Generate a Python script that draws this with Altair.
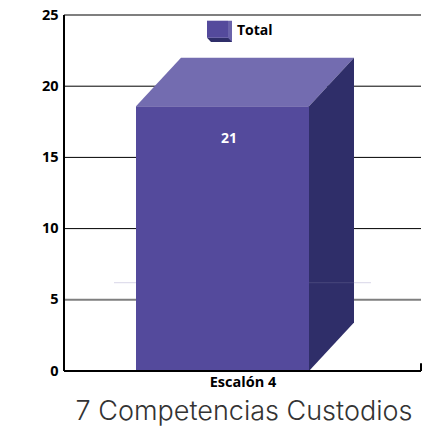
import altair as alt
import pandas as pd

categories = ["Escalón 4"]
series_name = "Total"
value_label = ["21"]
y_ticks = [0, 5, 10, 15, 20, 25]
grid_dark = [10, 15, 20]
grid_grey = [5, 25]
title_text = "7 Competencias Custodios"

# Drawn 3D box (x in pixels of plot width, y in axis units)
front_x = [72, 245]
depth_x = [117, 290]
front_top = 18.6
back_top = 22.0
back_bottom = 3.4
label_x = 165
label_value = 16.3
faint_line = 6.2
faint_x = [50, 307]

# Legend glyph
leg_front_x = [143, 164]
leg_back_x = [147, 168]
leg_y = [23.4, 24.6, 23.1]

W, H = 357, 356
xs = alt.Scale(domain=[0, W], range=[0, W], nice=False, zero=False)
ys = alt.Scale(domain=[0, 25], range=[H, 0], nice=False)
X = lambda f: alt.X(f, type="quantitative", scale=xs, axis=None)
Y = lambda f: alt.Y(f, type="quantitative", scale=ys, title=None,
                    axis=alt.Axis(values=y_ticks, grid=False, ticks=False, domain=False,
                                  labelFont="Open Sans", labelFontWeight="bold", labelFontSize=14.5,
                                  labelColor="#000000", labelPadding=6))

grid = alt.Chart(pd.DataFrame({"v": grid_dark})).mark_rule(color="#000000", strokeWidth=1).encode(
    y=Y("v:Q"), x=alt.value(0), x2=alt.value(W))
grid2 = alt.Chart(pd.DataFrame({"v": grid_grey})).mark_rule(color="#7f7f7f", strokeWidth=2).encode(
    y=Y("v:Q"), x=alt.value(0), x2=alt.value(W))

faint = alt.Chart(pd.DataFrame({"a": [faint_x[0]], "b": [faint_x[1]], "v": [faint_line]})).mark_rule(
    color="#d8d6e8", strokeWidth=1).encode(x=X("a"), x2="b", y=Y("v"))

front = alt.Chart(pd.DataFrame({"a": [front_x[0]], "b": [front_x[1]], "t": [front_top], "z": [0]})).mark_rect(color="#544a9c").encode(
    x=X("a"), x2="b", y=Y("t"), y2="z")

top = alt.Chart(pd.DataFrame({
    "x": [front_x[0], depth_x[0], front_x[1], depth_x[1]],
    "y": [front_top, back_top, back_top, back_top],
    "y2": [front_top, front_top, front_top, back_top]})).mark_area(color="#736cb0", interpolate="linear").encode(
    x=X("x"), y=Y("y"), y2="y2")

side = alt.Chart(pd.DataFrame({
    "x": [front_x[1], depth_x[1]],
    "y": [front_top, back_top],
    "y2": [0, back_bottom]})).mark_area(color="#2f2e69", interpolate="linear").encode(
    x=X("x"), y=Y("y"), y2="y2")

faint_side = alt.Chart(pd.DataFrame({"a": [front_x[1]], "b": [depth_x[1]], "v": [faint_line]})).mark_rule(
    color="#d8d6e8", strokeWidth=1, opacity=0.15).encode(x=X("a"), x2="b", y=Y("v"))

label = alt.Chart(pd.DataFrame({"x": [label_x], "y": [label_value], "t": value_label})).mark_text(
    color="#ffffff", font="Open Sans", fontWeight="bold", fontSize=14).encode(x=X("x"), y=Y("y"), text="t")

axis_l = alt.Chart(pd.DataFrame({"a": [0], "t": [25], "z": [0]})).mark_rule(color="#000000", strokeWidth=2).encode(
    x=X("a"), y=Y("t"), y2="z")
axis_b = alt.Chart(pd.DataFrame({"a": [0], "b": [W], "z": [0]})).mark_rule(color="#000000", strokeWidth=2).encode(
    x=X("a"), x2="b", y=Y("z"))
tick_r = alt.Chart(pd.DataFrame({"a": [W], "t": [0.55], "z": [0]})).mark_rule(color="#000000", strokeWidth=2).encode(
    x=X("a"), y=Y("t"), y2="z")

cat = alt.Chart(pd.DataFrame({"x": [179], "y": [0], "t": categories})).mark_text(
    color="#000000", font="Open Sans", fontWeight="bold", fontSize=14.5, dy=12).encode(x=X("x"), y=Y("y"), text="t")
ttl = alt.Chart(pd.DataFrame({"x": [180], "y": [0], "t": [title_text]})).mark_text(
    color="#333333", font="Inter", fontWeight=300, fontSize=27, dy=41).encode(x=X("x"), y=Y("y"), text="t")

leg_front = alt.Chart(pd.DataFrame({"a": [leg_front_x[0]], "b": [leg_front_x[1]], "t": [leg_y[1]], "z": [leg_y[0]]})).mark_rect(color="#544a9c").encode(
    x=X("a"), x2="b", y=Y("t"), y2="z")
leg_side = alt.Chart(pd.DataFrame({"x": [leg_front_x[1], leg_back_x[1]], "y": [leg_y[1], leg_y[1]], "y2": [leg_y[0], leg_y[2]]})).mark_area(color="#6a63aa", interpolate="linear").encode(
    x=X("x"), y=Y("y"), y2="y2")
leg_bot = alt.Chart(pd.DataFrame({"x": [leg_front_x[0], leg_back_x[0], leg_front_x[1], leg_back_x[1]], "y": [leg_y[0], leg_y[0], leg_y[0], leg_y[0]], "y2": [leg_y[0], leg_y[2], leg_y[2], leg_y[2]]})).mark_area(color="#2f2e69", interpolate="linear").encode(
    x=X("x"), y=Y("y"), y2="y2")
leg_text = alt.Chart(pd.DataFrame({"x": [leg_back_x[1] + 5], "y": [23.9], "t": [series_name]})).mark_text(
    align="left", color="#000000", font="Open Sans", fontWeight="bold", fontSize=14).encode(x=X("x"), y=Y("y"), text="t")

chart = alt.layer(grid, grid2, faint, front, top, side, faint_side, label, axis_l, axis_b, tick_r, cat, ttl,
                  leg_bot, leg_front, leg_side, leg_text).properties(
    width=W, height=H,
    autosize=alt.AutoSizeParams(type="none"),
    padding={"left": 56, "top": 7, "right": 15, "bottom": 56},
).configure_view(stroke=None)

chart.save("out.html", embed_options={"renderer": "svg", "actions": False})
